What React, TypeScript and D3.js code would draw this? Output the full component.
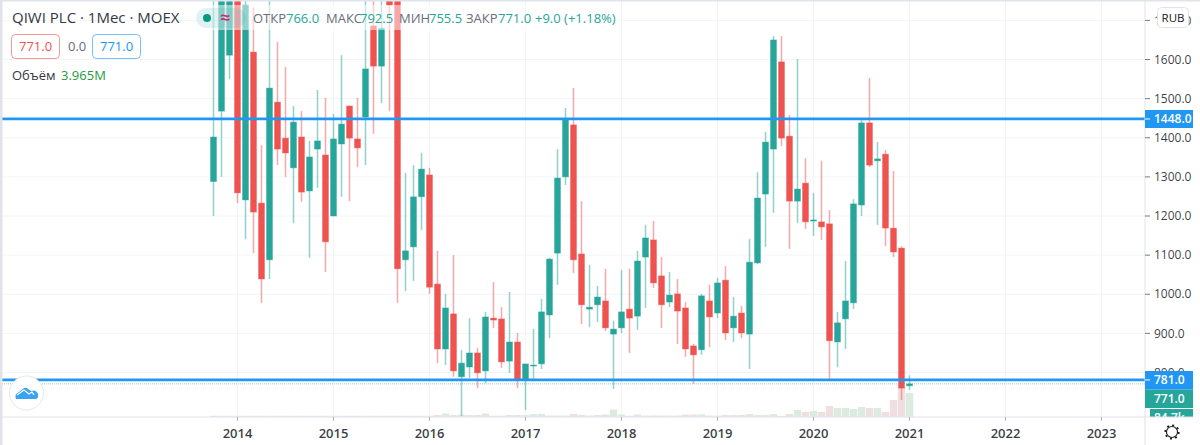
import { scaleLinear, select } from 'd3';
import React, { useEffect, useRef } from 'react';

// monthly candles, Oct 2013 .. Jan 2021
const opens = [1288,1468,1611,1950,1241,1619,1233,1088,1491,1399,1323,1402,1264,1371,1356,1200,1384,1481,1397,1453,1686,1583,1800,1790,1088,1121,1249,1305,1026,860,950,789,814,850,804,939,937,829,878,781,817,822,947,1105,1300,1433,1103,962,973,983,898,914,962,944,1095,1139,1047,980,1001,965,868,858,983,952,1036,914,952,898,1080,1256,1371,1594,1404,1238,1284,1187,1185,1180,878,937,978,1228,1438,1341,1358,1169,1118,766];
const highs = [1800,1900,1950,2000,1780,1732,1381,1770,1645,1581,1481,1468,1392,1522,1502,1461,1611,1483,1502,1760,1770,1770,1850,1850,1310,1330,1361,1323,1111,1001,1100,858,939,863,955,1031,967,1006,901,822,911,988,1093,1371,1476,1527,1238,1075,1021,1065,932,1062,1065,1111,1177,1187,1095,1057,1039,980,873,1001,1024,1042,1072,993,970,1141,1312,1415,1660,1660,1458,1601,1348,1259,1341,1215,955,1085,1243,1445,1553,1389,1369,1315,1123,792.5];
const lows = [1200,1300,1550,1233,1141,1105,978,1039,1330,1300,1182,1236,1093,1272,1057,1199,1249,1238,1325,1330,1410,1489,1468,978,1008,1034,1164,1001,824,819,789,689,786,760,773,914,812,799,760,704,781,809,888,1024,1279,1054,924,916,929,906,758,901,850,909,965,1016,914,967,873,840,771,845,865,939,883,878,888,809,1077,1121,1208,1379,1116,1182,1167,1149,1139,781,814,860,962,1200,1325,1177,1123,1095,730,755.5];
const closes = [1402,1850,1900,1259,1739,1210,1039,1527,1371,1361,1440,1261,1351,1392,1134,1397,1435,1399,1374,1576,1583,1680,1739,1065,1111,1249,1320,1018,860,965,804,824,850,799,942,934,827,878,781,822,819,955,1090,1297,1448,1088,973,967,993,914,911,955,939,1085,1144,1029,973,998,957,860,845,996,942,1029,901,944,901,1082,1246,1389,1650,1399,1238,1269,1185,1190,1172,881,927,983,1231,1438,1330,1346,1169,1108,760,771];
const volumes = [0.2,0.2,0.2,0.2,0.2,0.2,0.2,0.2,0.2,0.2,0.2,0.2,0.2,0.2,0.2,0.2,0.2,0.2,0.2,0.2,0.2,0.2,0.2,0.2,0.2,0.2,0.2,0.2,0.33,0.58,0.33,0.41,0.33,0.33,0.58,0.22,0.22,0.33,0.33,0.33,0.5,0.5,0.25,0.25,0.25,0.5,0.33,0.25,0.33,0.41,1.24,0.41,0.22,0.41,0.25,0.25,0.25,0.25,0.25,0.41,0.41,0.41,0.25,0.22,0.33,0.33,0.33,0.5,0.33,0.33,0.5,0.17,0.5,1.16,0.83,1.0,0.83,1.82,1.49,1.49,1.32,1.65,1.49,1.49,0.83,2.81,4.96,3.965];
const priceTicks = [800,900,1000,1100,1200,1300,1400,1500,1600,1700];
const yearTicks = [2014,2015,2016,2017,2018,2019,2020,2021,2022,2023];
const levels = [1448, 781];
const lastClose = 771;

const UP = '#26a69a';
const DOWN = '#ef5350';
const BLUE = '#2196f3';
const GRID = '#f2f4f9';
const BORDER = '#e0e3eb';
const TEXT = '#131722';
const FONT = '"Open Sans", sans-serif';

const yearIndex = (year: number) => (year - 2013) * 12 - 9;

const App = () => {
  const svgRef = useRef<SVGSVGElement>(null);

  useEffect(() => {
    const svg = select(svgRef.current);
    svg.selectAll('*').remove();

    const x = scaleLinear().domain([0, 87]).range([213.5, 909.5]);
    const y = scaleLinear().domain([800, 1600]).range([372.5, 59.5]);
    const vol = scaleLinear().domain([0, 3.965]).range([417, 393]);
    const months = opens.map((_, i) => i);
    const isUp = (i: number) => closes[i] >= opens[i];
    const color = (i: number) => (isUp(i) ? UP : DOWN);

    // grid
    svg.append('g').selectAll('line').data(priceTicks).join('line')
      .attr('x1', 0).attr('x2', 1145)
      .attr('y1', (d) => y(d)).attr('y2', (d) => y(d))
      .attr('stroke', GRID);
    svg.append('g').selectAll('line').data(yearTicks).join('line')
      .attr('x1', (d) => x(yearIndex(d))).attr('x2', (d) => x(yearIndex(d)))
      .attr('y1', 0).attr('y2', 417)
      .attr('stroke', GRID);

    // volume
    svg.append('g').selectAll('rect').data(months).join('rect')
      .attr('x', (i) => x(i) - 3.7).attr('width', 7.4)
      .attr('y', (i) => vol(volumes[i]))
      .attr('height', (i) => 417 - vol(volumes[i]))
      .attr('fill', (i) => (isUp(i) ? '#dcebe0' : '#efdfe0'));

    // wicks, then bodies
    svg.append('g').selectAll('line').data(months).join('line')
      .attr('x1', (i) => x(i)).attr('x2', (i) => x(i))
      .attr('y1', (i) => y(highs[i])).attr('y2', (i) => y(lows[i]))
      .attr('stroke', color).attr('stroke-opacity', 0.5).attr('stroke-width', 1.5);
    svg.append('g').selectAll('rect').data(months).join('rect')
      .attr('x', (i) => x(i) - 3).attr('width', 6)
      .attr('y', (i) => y(Math.max(opens[i], closes[i])))
      .attr('height', (i) => Math.max(1, Math.abs(y(opens[i]) - y(closes[i]))))
      .attr('fill', color)
      .attr('stroke', color).attr('stroke-opacity', 0.35).attr('stroke-width', 1);

    // last price dotted line + horizontal levels
    svg.append('line')
      .attr('x1', 0).attr('x2', 1145)
      .attr('y1', y(lastClose)).attr('y2', y(lastClose))
      .attr('stroke', UP).attr('stroke-opacity', 0.5).attr('stroke-dasharray', '1 1');
    svg.append('g').selectAll('line').data(levels).join('line')
      .attr('x1', 2).attr('x2', 1145)
      .attr('y1', (d) => y(d)).attr('y2', (d) => y(d))
      .attr('stroke', BLUE).attr('stroke-width', 2.8);

    // frame and axes panels
    svg.append('rect').attr('x', 1145).attr('y', 0).attr('width', 55).attr('height', 445).attr('fill', '#fff');
    svg.append('rect').attr('x', 0).attr('y', 417.5).attr('width', 1145).attr('height', 28).attr('fill', '#fff');
    svg.append('line').attr('x1', 0).attr('x2', 1145).attr('y1', 417).attr('y2', 417).attr('stroke', BORDER).attr('stroke-width', 1);
    svg.append('line').attr('x1', 1145).attr('x2', 1145).attr('y1', 0).attr('y2', 445).attr('stroke', BORDER);
    svg.append('rect').attr('x', 0).attr('y', 0).attr('width', 2.5).attr('height', 445).attr('fill', BORDER);
    svg.append('rect').attr('x', 0).attr('y', 0).attr('width', 1200).attr('height', 1.5).attr('fill', BORDER);

    // price axis
    const priceAxis = svg.append('g').selectAll('g').data(priceTicks).join('g')
      .attr('transform', (d) => `translate(1145,${y(d)})`);
    priceAxis.append('line').attr('x2', 5).attr('stroke', '#787b86');
    priceAxis.append('text')
      .attr('x', 9).attr('dy', '0.35em')
      .attr('font-family', FONT).attr('font-size', 12).attr('fill', TEXT).attr('fill-opacity', 0.85)
      .text((d) => d.toFixed(1));

    // time axis
    const timeAxis = svg.append('g').selectAll('g').data(yearTicks).join('g')
      .attr('transform', (d) => `translate(${x(yearIndex(d))},417)`);
    timeAxis.append('line').attr('y2', 4).attr('stroke', '#b2b5be');
    timeAxis.append('text')
      .attr('y', 21).attr('text-anchor', 'middle')
      .attr('font-family', FONT).attr('font-size', 13).attr('font-weight', 600).attr('fill', TEXT).attr('fill-opacity', 0.85)
      .text((d) => d);

    // axis price tags
    const tag = (price: number, top: number, bottom: number, fill: string) => {
      svg.append('rect').attr('x', 1145).attr('y', top).attr('width', 48).attr('height', bottom - top).attr('fill', fill);
      svg.append('line').attr('x1', 1145).attr('x2', 1150).attr('y1', y(price)).attr('y2', y(price)).attr('stroke', '#fff');
      svg.append('text')
        .attr('x', 1154).attr('y', (top + bottom) / 2).attr('dy', '0.35em')
        .attr('font-family', FONT).attr('font-size', 12).attr('font-weight', 600).attr('fill', '#fff')
        .text(price.toFixed(1));
    };
    tag(levels[0], 110, 128, BLUE);
    tag(lastClose, 389.5, 408, UP);
    svg.append('defs').append('clipPath').attr('id', 'volTag')
      .append('rect').attr('x', 1145).attr('y', 408.5).attr('width', 55).attr('height', 8.5);
    svg.append('rect').attr('x', 1150).attr('y', 409).attr('width', 43).attr('height', 8).attr('fill', UP);
    svg.append('text')
      .attr('x', 1154).attr('y', 422).attr('clip-path', 'url(#volTag)')
      .attr('font-family', FONT).attr('font-size', 12).attr('font-weight', 600).attr('fill', '#fff')
      .text('84.7k');
    tag(levels[1], 371, 389.5, BLUE);
    svg.append('line').attr('x1', 1145).attr('x2', 1193).attr('y1', 417).attr('y2', 417).attr('stroke', BORDER);

    // RUB button
    svg.append('rect')
      .attr('x', 1157.5).attr('y', 7.5).attr('width', 31).attr('height', 20).attr('rx', 4)
      .attr('fill', '#fff').attr('stroke', BORDER);
    svg.append('text')
      .attr('x', 1173).attr('y', 22).attr('text-anchor', 'middle')
      .attr('font-family', FONT).attr('font-size', 11.5).attr('fill', TEXT)
      .text('RUB');

    // legend
    const label = (s: string, lx: number, ly: number, fill: string, size = 13, weight = 400) =>
      svg.append('text')
        .attr('x', lx).attr('y', ly)
        .attr('font-family', FONT).attr('font-size', size).attr('font-weight', weight).attr('fill', fill)
        .text(s);

    svg.append('rect').attr('x', 196).attr('y', 5).attr('width', 424).attr('height', 25).attr('fill', '#fff').attr('fill-opacity', 0.5);
    svg.append('rect').attr('x', 196).attr('y', 8).attr('width', 50).attr('height', 20).attr('rx', 10).attr('fill', UP).attr('fill-opacity', 0.14);
    svg.append('circle').attr('cx', 207).attr('cy', 18).attr('r', 4).attr('fill', '#089981');
    label('≈', 220, 24, '#d6246e', 18, 600);

    label('QIWI PLC · 1Мес · MOEX', 12, 23, '#333743', 15);
    label('ОТКР', 253, 23, '#6a6d78');
    label('766.0', 286, 23, UP);
    label('МАКС', 326, 23, '#6a6d78');
    label('792.5', 360, 23, UP);
    label('МИН', 399, 23, '#6a6d78');
    label('755.5', 429, 23, UP);
    label('ЗАКР', 466, 23, '#6a6d78');
    label('771.0', 498, 23, UP);
    label('+9.0 (+1.18%)', 535, 23, UP);

    svg.append('rect').attr('x', 11.5).attr('y', 34.5).attr('width', 48).attr('height', 24).attr('rx', 4)
      .attr('fill', '#fff').attr('stroke', DOWN).attr('stroke-opacity', 0.6);
    label('771.0', 19, 51, DOWN);
    label('0.0', 68, 51, '#6a6d78');
    svg.append('rect').attr('x', 92.5).attr('y', 34.5).attr('width', 48).attr('height', 24).attr('rx', 4)
      .attr('fill', '#fff').attr('stroke', BLUE).attr('stroke-opacity', 0.6);
    label('771.0', 100, 51, BLUE);
    label('Объём', 12, 80, '#333743');
    label('3.965M', 61, 80, '#1f9a3c');

    // logo button
    svg.append('circle').attr('cx', 26.5).attr('cy', 393).attr('r', 17).attr('fill', '#fff').attr('stroke', '#e6e8ee');
    svg.append('path')
      .attr('d', 'M16 399 Q14 394 19 392 L24 388 Q26 387 28 389 L31 391 Q36 389 38 394 Q39 399 35 399 Z')
      .attr('fill', '#38a3f1');
    svg.append('path')
      .attr('d', 'M17 395 L24 390 L29 394 L32 392 L34 395')
      .attr('fill', 'none').attr('stroke', '#fff').attr('stroke-width', 1.2);

    // settings gear
    svg.append('circle').attr('cx', 1172).attr('cy', 432).attr('r', 5.5).attr('fill', 'none').attr('stroke', TEXT).attr('stroke-width', 1.1);
    svg.append('circle').attr('cx', 1172).attr('cy', 432).attr('r', 6.8).attr('fill', 'none').attr('stroke', TEXT).attr('stroke-width', 1.6).attr('stroke-dasharray', '2 3.34');
  }, []);

  return (
    <svg ref={svgRef} width={1200} height={445} style={{ position: 'absolute', left: 0, top: 0, background: '#fff' }} />
  );
};

export default App;
